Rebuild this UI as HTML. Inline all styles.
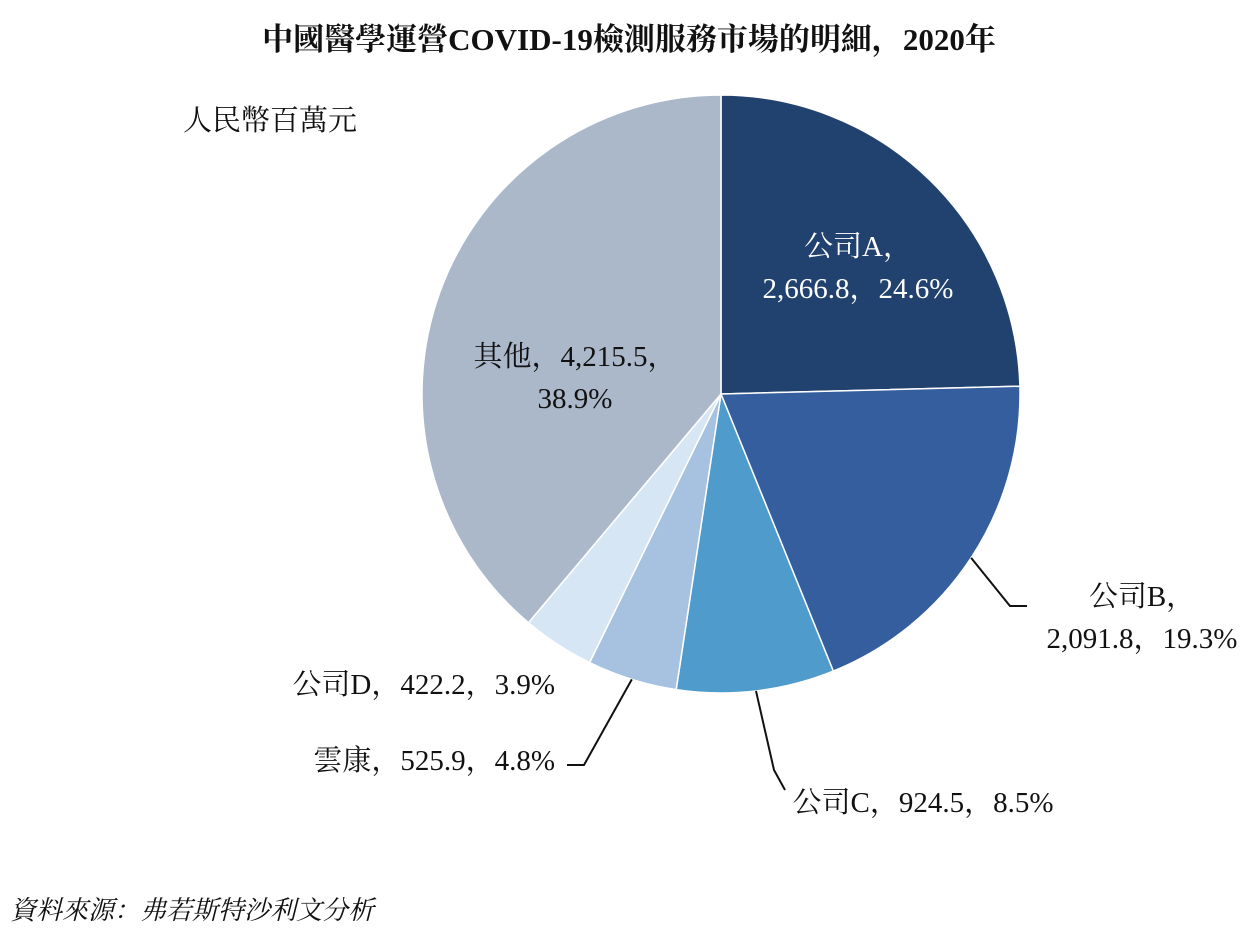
<!DOCTYPE html>
<html><head><meta charset="utf-8">
<style>
body{margin:0;background:#fff;width:1258px;height:932px;overflow:hidden;position:relative;font-family:"Liberation Serif","Noto Serif CJK SC",serif;}
.t{position:absolute;color:#111;white-space:nowrap;}
</style></head><body>
<div class="t" style="left:0;width:1258px;top:14px;text-align:center;font-size:31px;font-weight:bold;">中國醫學運營COVID-19檢測服務市場的明細，2020年</div>
<div class="t" style="left:183px;top:98px;font-size:29px;">人民幣百萬元</div>
<div class="t" style="left:10px;top:890px;font-size:26px;font-style:italic;">資料來源：弗若斯特沙利文分析</div>
<svg id="pie" width="1258" height="932" style="position:absolute;left:0;top:0"></svg>
<script>
const categories=["公司A","公司B","公司C","雲康","公司D","其他"];
const values=[2666.8,2091.8,924.5,525.9,422.2,4215.5];
const percents=["24.6%","19.3%","8.5%","4.8%","3.9%","38.9%"];
const colors=["#21416f","#345e9e","#4e9bcc","#a6c2e0","#d6e6f5","#aab8ca"];
const cx=721,cy=394,r=299;
const svg=document.getElementById('pie');
const NS="http://www.w3.org/2000/svg";
const total=values.reduce((a,b)=>a+b,0);
function pt(a,rr){return [cx+rr*Math.sin(a),cy-rr*Math.cos(a)];}
let acc=0;const mids=[];
values.forEach((v,i)=>{
 const a0=acc/total*2*Math.PI;acc+=v;const a1=acc/total*2*Math.PI;
 mids.push((a0+a1)/2);
 const p0=pt(a0,r),p1=pt(a1,r);
 const path=document.createElementNS(NS,'path');
 path.setAttribute('d',`M${cx},${cy}L${p0[0]},${p0[1]}A${r},${r} 0 ${a1-a0>Math.PI?1:0} 1 ${p1[0]},${p1[1]}Z`);
 path.setAttribute('fill',colors[i]);path.setAttribute('stroke','#fff');path.setAttribute('stroke-width','1.5');
 
 
 svg.appendChild(path);
});
function fmt(v){return v.toLocaleString('en-US',{minimumFractionDigits:1,maximumFractionDigits:1});}
function line(pts,i){const pl=document.createElementNS(NS,'polyline');pl.setAttribute('points',pts.map(p=>p.join(',')).join(' '));pl.setAttribute('fill','none');pl.setAttribute('stroke','#111');pl.setAttribute('stroke-width','2');


svg.appendChild(pl);}
function text(lines,x,y,anchor,fill,i){lines.forEach((s,k)=>{const t=document.createElementNS(NS,'text');t.setAttribute('x',x);t.setAttribute('y',y+k*42);t.setAttribute('text-anchor',anchor);t.setAttribute('font-size','29');t.setAttribute('fill',fill);t.setAttribute('font-family','"Liberation Serif","Noto Serif CJK SC",serif');t.textContent=s;


svg.appendChild(t);});}
// A inside
text([categories[0]+"，",fmt(values[0])+"，"+percents[0]],858,256,'middle','#fff',0);
// B
let e=pt(mids[1],r);line([e,[1010,606],[1027,606]],1);
text([categories[1]+"，",fmt(values[1])+"，"+percents[1]],1142,606,'middle','#111',1);
// C
e=pt(mids[2],r);line([e,[774,770],[785,790]],2);
text([categories[2]+"，"+fmt(values[2])+"，"+percents[2]],923,812,'middle','#111',2);
// Yunkang
e=pt(mids[3],r);line([e,[584,765],[567,765]],3);
text([categories[3]+"，"+fmt(values[3])+"，"+percents[3]],555,770,'end','#111',3);
// D
text([categories[4]+"，"+fmt(values[4])+"，"+percents[4]],555,694,'end','#111',4);
// Others inside
text([categories[5]+"，"+fmt(values[5])+"，",percents[5]],575,366,'middle','#111',5);
</script>
</body></html>
